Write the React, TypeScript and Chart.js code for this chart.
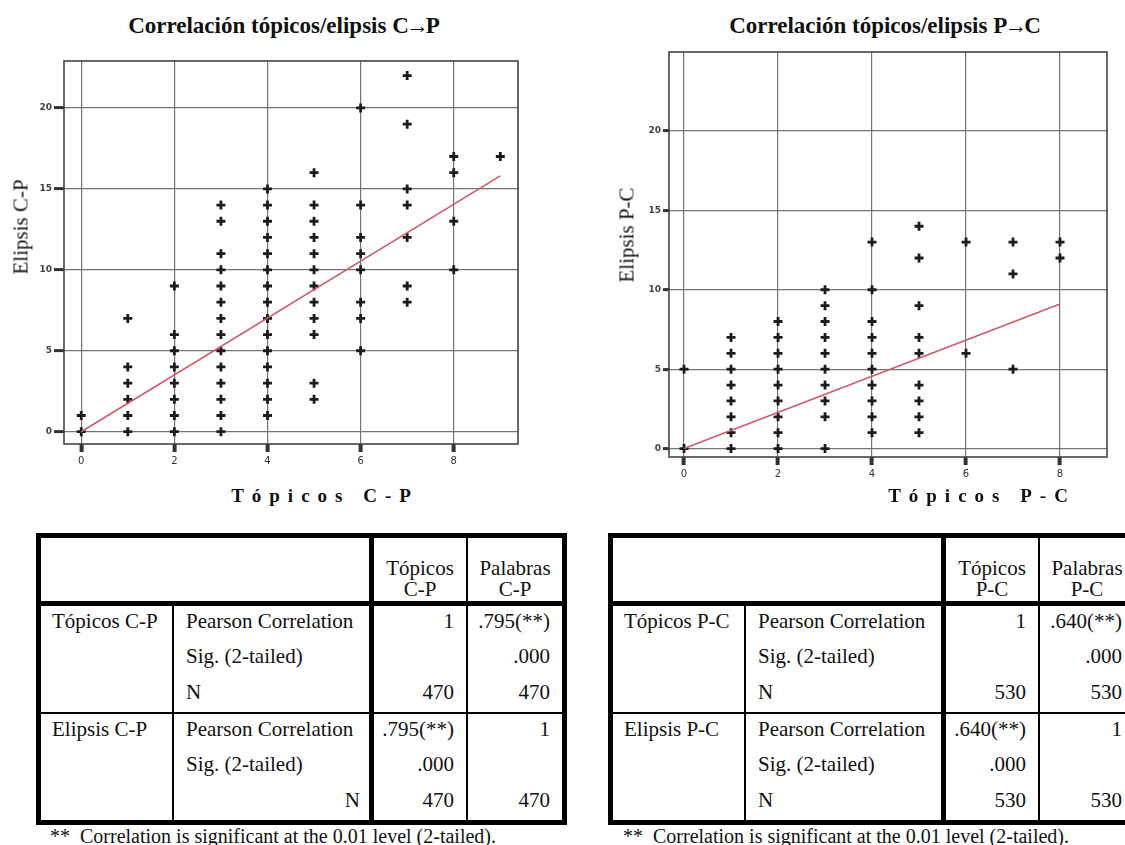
import React, { useEffect, useRef } from 'react';
import { Chart, registerables } from 'chart.js';

Chart.register(...registerables);

const SERIF = '"Liberation Serif", "DejaVu Serif", serif';
const SANS = '"DejaVu Sans", "Liberation Sans", sans-serif';

// ---------- Data: C→P ----------
const topicosCP = [0, 1, 2, 3, 4, 5, 6, 7, 8, 9];
const elipsisCP = [
  [0, 1],
  [0, 1, 2, 3, 4, 7],
  [0, 1, 2, 3, 4, 5, 6, 9],
  [0, 1, 2, 3, 4, 5, 6, 7, 8, 9, 10, 11, 13, 14],
  [1, 2, 3, 4, 5, 6, 7, 8, 9, 10, 11, 12, 13, 14, 15],
  [2, 3, 6, 7, 8, 9, 10, 11, 12, 13, 14, 16],
  [5, 7, 8, 10, 11, 12, 14, 20],
  [8, 9, 12, 14, 15, 19, 22],
  [10, 13, 16, 17],
  [17],
];
const fitCPx = [0, 9];
const fitCPy = [0, 15.8];

// ---------- Data: P→C ----------
const topicosPC = [0, 1, 2, 3, 4, 5, 6, 7, 8];
const elipsisPC = [
  [0, 5],
  [0, 1, 2, 3, 4, 5, 6, 7],
  [0, 1, 2, 3, 4, 5, 6, 7, 8],
  [0, 2, 3, 4, 5, 6, 7, 8, 9, 10],
  [1, 2, 3, 4, 5, 6, 7, 8, 10, 13],
  [1, 2, 3, 4, 6, 7, 9, 12, 14],
  [6, 13],
  [5, 11, 13],
  [12, 13],
];
const fitPCx = [0, 8];
const fitPCy = [0, 9.1];

const xTickValues = [0, 2, 4, 6, 8];
const yTickValues = [0, 5, 10, 15, 20];

// ---------- Tables ----------
const statLabels = ['Pearson Correlation', 'Sig. (2-tailed)', 'N'];
const cpHeaders = [['Tópicos', 'C-P'], ['Palabras', 'C-P']];
const cpRowVars = ['Tópicos C-P', 'Elipsis C-P'];
const cpCells = [
  ['1', '.795(**)'],
  ['', '.000'],
  ['470', '470'],
  ['.795(**)', '1'],
  ['.000', ''],
  ['470', '470'],
];
const pcHeaders = [['Tópicos', 'P-C'], ['Palabras', 'P-C']];
const pcRowVars = ['Tópicos P-C', 'Elipsis P-C'];
const pcCells = [
  ['1', '.640(**)'],
  ['', '.000'],
  ['530', '530'],
  ['.640(**)', '1'],
  ['.000', ''],
  ['530', '530'],
];
const footnote = 'Correlation is significant at the 0.01 level (2-tailed).';

function toPoints(xs: number[], ys: number[][]) {
  return xs.flatMap((x, i) => ys[i].map((y) => ({ x, y })));
}
function toLine(xs: number[], ys: number[]) {
  return xs.map((x, i) => ({ x, y: ys[i] }));
}

const framePlugin = {
  id: 'frame',
  beforeDatasetsDraw(chart: any) {
    const { ctx, chartArea } = chart;
    ctx.save();
    ctx.strokeStyle = '#444';
    ctx.lineWidth = 1.6;
    ctx.strokeRect(chartArea.left, chartArea.top, chartArea.right - chartArea.left, chartArea.bottom - chartArea.top);
    ctx.restore();
  },
};

type ScatterProps = {
  left: number; top: number; width: number; height: number;
  area: { left: number; top: number; right: number; bottom: number };
  xMin: number; xMax: number; yMin: number; yMax: number;
  xs: number[]; ys: number[][]; fx: number[]; fy: number[];
  yTickLen: number; yTickPad: number;
};

function Scatter(p: ScatterProps) {
  const ref = useRef<HTMLCanvasElement | null>(null);
  useEffect(() => {
    if (!ref.current) return;
    const chart = new Chart(ref.current, {
      type: 'scatter',
      data: {
        datasets: [
          {
            type: 'scatter',
            data: toPoints(p.xs, p.ys),
            pointStyle: 'cross',
            pointRadius: 4.5,
            pointBorderWidth: 2.8,
            borderColor: '#1c1c1c',
            backgroundColor: '#1c1c1c',
            order: 2,
          } as any,
          {
            type: 'line',
            data: toLine(p.fx, p.fy),
            borderColor: '#cf5a68',
            borderWidth: 1.6,
            pointRadius: 0,
            fill: false,
            order: 1,
          } as any,
        ],
      },
      options: {
        animation: false,
        responsive: false,
        layout: { padding: { left: 0, top: p.area.top, right: p.width - p.area.right, bottom: 0 } },
        plugins: { legend: { display: false }, tooltip: { enabled: false }, title: { display: false } },
        scales: {
          x: {
            type: 'linear',
            min: p.xMin,
            max: p.xMax,
            afterBuildTicks: (s: any) => { s.ticks = xTickValues.map((v) => ({ value: v })); },
            afterFit: (s: any) => { s.height = p.height - p.area.bottom; },
            grid: { color: '#747474', lineWidth: 1.2, tickLength: 8, tickWidth: 4, tickColor: '#333' },
            border: { display: false },
            ticks: { font: { family: SANS, size: 10 }, color: '#333', padding: 3, maxRotation: 0, autoSkip: false },
          },
          y: {
            type: 'linear',
            min: p.yMin,
            max: p.yMax,
            afterBuildTicks: (s: any) => { s.ticks = yTickValues.map((v) => ({ value: v })); },
            afterFit: (s: any) => { s.width = p.area.left; },
            grid: { color: '#747474', lineWidth: 1.2, tickLength: p.yTickLen, tickWidth: 3, tickColor: '#333' },
            border: { display: false },
            ticks: { font: { family: SANS, size: 9, weight: 'bold' }, color: '#444', padding: p.yTickPad },
          },
        },
      } as any,
      plugins: [framePlugin],
    });
    return () => chart.destroy();
  }, []);
  return (
    <canvas
      ref={ref}
      width={p.width}
      height={p.height}
      style={{ position: 'absolute', left: p.left, top: p.top, width: p.width, height: p.height }}
    />
  );
}

function Text({ x, y, children, align = 'left', size = 21, bold = false, spacing = 0, rotate = false }: any) {
  const style: React.CSSProperties = {
    position: 'absolute',
    whiteSpace: 'pre',
    fontFamily: SERIF,
    fontSize: size,
    fontWeight: bold ? 'bold' : 'normal',
    letterSpacing: spacing,
    lineHeight: `${size + 4}px`,
    color: '#111',
    left: x,
    top: y,
  };
  if (rotate) style.transform = 'translate(-50%, -50%) rotate(-90deg)';
  else if (align === 'center') style.transform = 'translate(-50%, -50%)';
  else if (align === 'right') style.transform = 'translate(-100%, -50%)';
  else style.transform = 'translate(0, -50%)';
  return <div style={style}>{children}</div>;
}

function Title({ x, from, to }: { x: number; from: string; to: string }) {
  return (
    <Text x={x} y={25} align="center" size={23} bold>
      {'Correlación tópicos/elipsis ' + from}
      <span style={{ margin: '0 -3px' }}>→</span>
      {to}
    </Text>
  );
}

function CorrTable({ left, top, headers, rowVars, cells, nRight }: any) {
  const W = 531;
  const H = 292;
  const line = (x: number, y: number, w: number, h: number, k: string) => (
    <div key={k} style={{ position: 'absolute', left: x, top: y, width: w, height: h, background: '#000' }} />
  );
  const rowY = [88, 123, 159, 196, 231, 267];
  return (
    <div style={{ position: 'absolute', left, top, width: W, height: H }}>
      {line(0, 0, W, 5, 't')}
      {line(0, H - 5, W, 5, 'b')}
      {line(0, 0, 5, H, 'l')}
      {line(W - 5, 0, 5, H, 'r')}
      {line(0, 68, W, 5, 'hs')}
      {line(0, 179, W, 2, 'gs')}
      {line(136, 73, 2, H - 73, 'c1')}
      {line(333, 0, 5, H, 'c2')}
      {line(430, 0, 2, H, 'c3')}
      <Text x={384} y={35} align="center">{headers[0][0]}</Text>
      <Text x={384} y={56} align="center">{headers[0][1]}</Text>
      <Text x={479} y={35} align="center">{headers[1][0]}</Text>
      <Text x={479} y={56} align="center">{headers[1][1]}</Text>
      <Text x={16} y={rowY[0]}>{rowVars[0]}</Text>
      <Text x={16} y={rowY[3]}>{rowVars[1]}</Text>
      {rowY.map((y, i) => {
        const label = statLabels[i % 3];
        const rightN = nRight && i === 5;
        return (
          <React.Fragment key={i}>
            {rightN ? (
              <Text x={324} y={y} align="right">{label}</Text>
            ) : (
              <Text x={150} y={y}>{label}</Text>
            )}
            <Text x={418} y={y} align="right">{cells[i][0]}</Text>
            <Text x={514} y={y} align="right">{cells[i][1]}</Text>
          </React.Fragment>
        );
      })}
    </div>
  );
}

export default function App() {
  return (
    <div
      style={{
        position: 'absolute', left: 0, top: 0, width: 1125, height: 845,
        overflow: 'hidden', background: '#fff',
      }}
    >
      {/* Left chart */}
      <Title x={284} from="C" to="P" />
      <Scatter
        left={0} top={0} width={560} height={480}
        area={{ left: 64, top: 61, right: 518, bottom: 444 }}
        xMin={-0.37} xMax={9.38} yMin={-0.76} yMax={22.9}
        xs={topicosCP} ys={elipsisCP} fx={fitCPx} fy={fitCPy}
        yTickLen={10} yTickPad={2}
      />
      <Text x={21} y={227} rotate size={21}>Elipsis C-P</Text>
      <Text x={325} y={495} align="center" size={19} bold spacing={8}>Tópicos C-P</Text>

      {/* Right chart */}
      <Title x={885} from="P" to="C" />
      <Scatter
        left={560} top={0} width={565} height={490}
        area={{ left: 109, top: 52, right: 547, bottom: 457 }}
        xMin={-0.32} xMax={9.0} yMin={-0.53} yMax={24.97}
        xs={topicosPC} ys={elipsisPC} fx={fitPCx} fy={fitPCy}
        yTickLen={6} yTickPad={2}
      />
      <Text x={627} y={235} rotate size={21}>Elipsis P-C</Text>
      <Text x={982} y={495} align="center" size={19} bold spacing={8}>Tópicos P-C</Text>

      {/* Tables */}
      <CorrTable left={36} top={533} headers={cpHeaders} rowVars={cpRowVars} cells={cpCells} nRight />
      <CorrTable left={608} top={533} headers={pcHeaders} rowVars={pcRowVars} cells={pcCells} nRight={false} />
      <Text x={50} y={836} size={20}>{'**  ' + footnote}</Text>
      <Text x={623} y={836} size={20}>{'**  ' + footnote}</Text>
    </div>
  );
}
